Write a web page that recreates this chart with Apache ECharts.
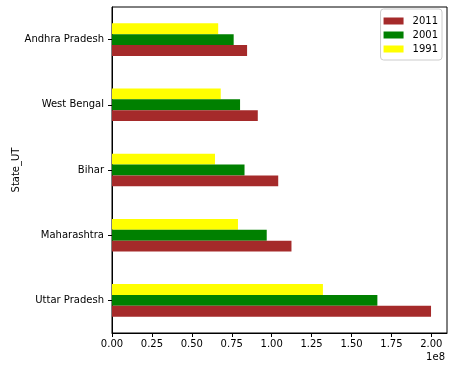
<!DOCTYPE html>
<html><head><meta charset="utf-8">
<script src="https://cdn.jsdelivr.net/npm/echarts@6/dist/echarts.min.js"></script>
<style>html,body{margin:0;padding:0;background:#fff}#c{width:457px;height:370px}</style>
</head><body><div id="c"></div>
<script>
const states = ['Uttar Pradesh', 'Maharashtra', 'Bihar', 'West Bengal', 'Andhra Pradesh'];
const pop2011 = [199.8e6, 112.4e6, 104.1e6, 91.3e6, 84.6e6];
const pop2001 = [166.2e6, 96.9e6, 83.0e6, 80.2e6, 76.2e6];
const pop1991 = [132.1e6, 78.9e6, 64.5e6, 68.1e6, 66.5e6];
const xTicks = [0, 0.25e8, 0.5e8, 0.75e8, 1.0e8, 1.25e8, 1.5e8, 1.75e8, 2.0e8];

const chart = echarts.init(document.getElementById('c'));
const font = 'DejaVu Sans';
chart.setOption({
  animation: false,
  textStyle: {fontFamily: font},
  grid: {left: 112, right: 10, top: 7, bottom: 37, show: true, borderColor: '#000', borderWidth: 1,
    containLabel: false, outerBoundsMode: 'none'},
  legend: {
    right: 15, top: 9, orient: 'vertical', icon: 'rect', itemWidth: 20, itemHeight: 7, itemGap: 4,
    padding: [7, 4, 6, 3], borderColor: '#ccc', borderWidth: 1, borderRadius: 3,
    textStyle: {fontFamily: font, fontSize: 10, color: '#000', padding: [0, 0, 0, 4]},
    data: ['2011', '2001', '1991']
  },
  xAxis: {
    type: 'value', min: 0, max: 2.098e8,
    axisLine: {show: true, lineStyle: {color: '#000'}},
    axisTick: {show: true, inside: false, length: 4, lineStyle: {color: '#000'}, customValues: xTicks},
    axisLabel: {color: '#000', fontSize: 10, fontFamily: font, margin: 6, customValues: xTicks,
      formatter: v => (v / 1e8).toFixed(2)},
    splitLine: {show: false}
  },
  yAxis: {
    type: 'category', data: states, name: 'State_UT', nameLocation: 'middle', nameGap: 91,
    nameMoveOverlap: false,
    nameTextStyle: {color: '#000', fontSize: 10, fontFamily: font},
    axisLine: {show: true, lineStyle: {color: '#000'}},
    axisTick: {show: true, alignWithLabel: true, length: 4, lineStyle: {color: '#000'}},
    axisLabel: {color: '#000', fontSize: 10, fontFamily: font, margin: 8}
  },
  graphic: [{type: 'text', right: 12, top: 352, style: {text: '1e8', fontSize: 10, fontFamily: font, fill: '#000'}}],
  series: [
    {name: '1991', type: 'bar', data: pop1991, itemStyle: {color: '#ffff00'}, barGap: '0%', barCategoryGap: '50%'},
    {name: '2001', type: 'bar', data: pop2001, itemStyle: {color: '#008000'}},
    {name: '2011', type: 'bar', data: pop2011, itemStyle: {color: '#a52a2a'}}
  ]
});
</script></body></html>
